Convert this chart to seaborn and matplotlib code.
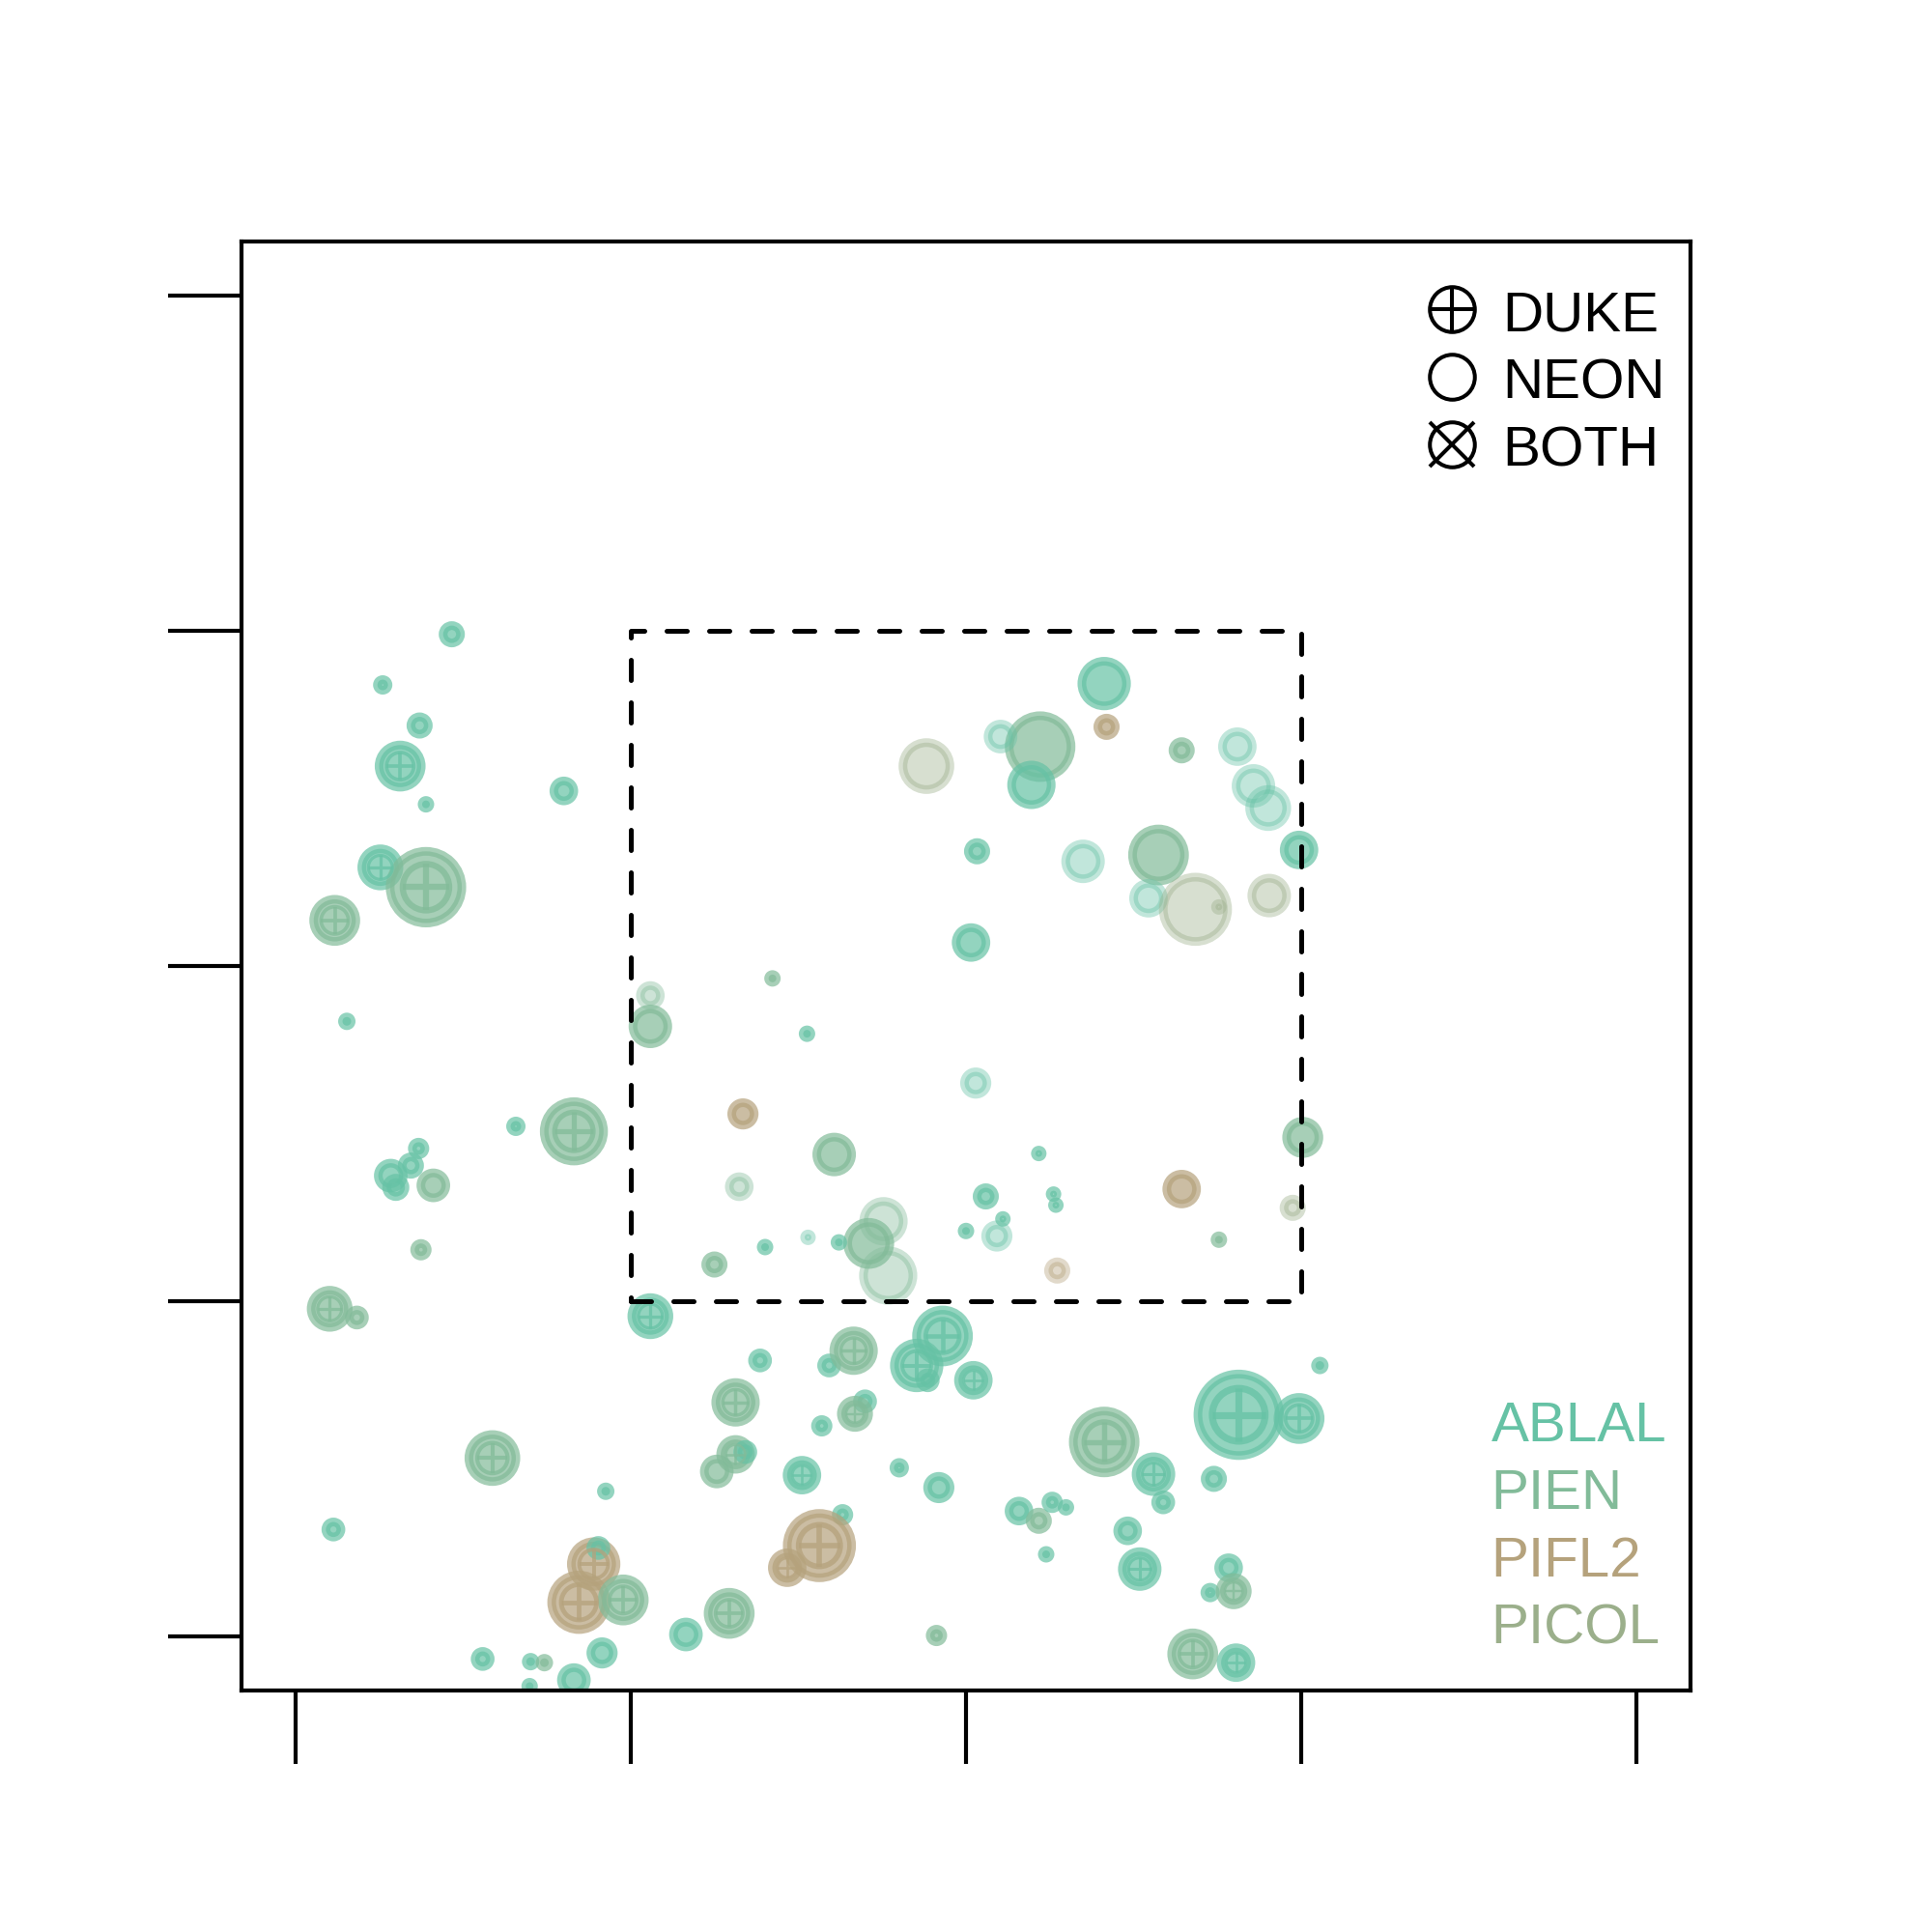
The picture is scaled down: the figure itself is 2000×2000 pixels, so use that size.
import numpy as np
import pandas as pd
import matplotlib.pyplot as plt
import seaborn as sns
from matplotlib.markers import MarkerStyle

# stem map: plot coordinates (m), stem diameter, species, survey, status
x = [4.67, 2.61, 3.71, 3.13, 3.90, 8.01, 2.54, 3.90, 1.18, 1.54, 6.58, 8.31, 3.68,
     2.85, 3.00, 3.45, 4.12, 3.75, 1.03, 1.84, 5.88, 1.14,
     24.12, 24.19, 18.82, 21.03, 22.21, 21.95, 26.43, 28.09, 28.57, 29.01, 20.33,
     23.49, 25.74, 29.93, 25.44, 26.84, 27.54, 29.04, 20.15, 10.59, 10.59, 14.23,
     15.26, 20.29, 13.35, 30.04, 16.07, 22.17, 13.24, 26.43, 20.59, 22.61, 22.68,
     17.54, 29.74, 21.10, 20.00, 20.92, 17.10, 16.21, 15.29, 14.01, 27.54, 12.50,
     17.68, 22.72,
     10.59, 13.86, 15.92, 16.65, 19.30, 18.53, 18.86, 20.22, 13.13, 16.99, 16.69,
     15.70, 13.13, 13.42, 12.57, 15.11, 18.01, 19.19, 16.32, 9.26, 8.90, 9.04,
     8.46, 9.78, 15.63, 14.67, 12.94, 11.65, 9.15, 5.59, 7.02, 7.43, 8.31, 6.99,
     19.12, 24.12, 28.13, 29.93, 30.55, 25.59, 27.39, 25.88, 21.58, 22.17, 22.57,
     22.98, 22.39, 24.82, 25.18, 27.83, 27.28, 27.98, 26.76, 28.05]
y = [29.89, 28.38, 27.17, 25.96, 24.82, 25.22, 22.94, 22.35, 21.36, 18.35, 15.22,
     15.07, 14.56, 13.75, 13.40, 14.05, 13.46, 11.54, 9.78, 9.52, 5.33, 3.20,
     28.42, 27.13, 25.96, 26.84, 26.54, 25.40, 26.43, 26.54, 25.37, 24.71, 23.42,
     23.12, 23.31, 23.46, 22.02, 21.69, 21.76, 22.10, 20.70, 19.12, 18.20, 19.63,
     17.98, 16.51, 15.59, 14.89, 14.38, 14.41, 13.42, 13.35, 13.13, 13.20, 12.87,
     12.39, 12.79, 12.46, 12.10, 11.95, 11.73, 11.76, 11.91, 11.62, 11.84, 11.10,
     10.77, 10.92,
     9.56, 8.24, 8.09, 8.53, 8.97, 8.09, 7.65, 7.65, 6.99, 7.02, 6.65, 6.29, 5.44,
     5.51, 4.93, 4.82, 5.04, 4.45, 3.64, 4.34, 2.17, 2.65, 1.03, 1.10, 2.72, 2.06,
     0.70, 0.07, -0.48, -0.66, -0.74, -0.77, -1.29, -1.47, 0.04, 5.81, 6.62, 6.51,
     8.09, 4.85, 4.71, 4.01, 3.75, 3.46, 4.01, 3.86, 2.46, 3.16, 2.02, 2.06, 1.32,
     1.36, -0.51, -0.77]
dbh = [9.0, 5.5, 9.0, 21.8, 4.0, 10.3, 19.2, 37.1, 21.8, 4.5, 5.5, 30.7, 6.5,
       12.9, 9.5, 9.0, 12.9, 6.5, 19.2, 7.8, 24.3, 7.8,
       23.1, 9.0, 24.3, 12.9, 32.0, 20.5, 9.0, 15.4, 18.0, 19.2, 9.0, 18.0, 26.9,
       15.4, 15.4, 33.3, 3.5, 18.0, 15.4, 10.3, 18.0, 4.0, 4.0, 11.6, 11.6, 16.7,
       18.0, 3.5, 10.3, 15.4, 9.0, 3.5, 3.5, 20.5, 9.0, 3.5, 4.0, 11.6, 21.8, 4.0,
       3.5, 4.0, 4.0, 9.0, 25.6, 9.0,
       19.2, 7.8, 7.8, 20.5, 26.9, 23.1, 7.8, 15.4, 20.5, 7.8, 14.1, 6.5, 15.4,
       7.8, 12.9, 15.4, 5.5, 11.6, 6.5, 4.5, 23.1, 7.8, 28.2, 21.8, 33.3, 15.4,
       21.8, 12.9, 11.6, 7.8, 4.5, 4.5, 12.9, 4.0, 6.5, 32.0, 42.2, 21.8, 4.5,
       18.0, 9.0, 7.8, 10.3, 9.0, 6.5, 4.0, 4.0, 10.3, 18.0, 10.3, 5.5, 14.1,
       21.8, 15.4]
species = ["ABLAL"] * 7 + ["PIEN", "PIEN", "ABLAL", "ABLAL", "PIEN", "ABLAL",
           "ABLAL", "ABLAL", "ABLAL", "PIEN", "PIEN", "PIEN", "PIEN", "PIEN", "ABLAL",
           "ABLAL", "PIFL2", "PICOL", "ABLAL", "PIEN", "ABLAL", "PIEN", "ABLAL", "ABLAL",
           "ABLAL", "ABLAL", "ABLAL", "PIEN", "ABLAL", "ABLAL", "PICOL", "PICOL",
           "PICOL", "ABLAL", "PIEN", "PIEN", "PIEN", "ABLAL", "ABLAL", "PIFL2", "PIEN",
           "PIEN", "ABLAL", "PIEN", "PIFL2", "ABLAL", "ABLAL", "ABLAL", "PIEN", "PICOL",
           "ABLAL", "ABLAL", "ABLAL", "PIEN", "ABLAL", "ABLAL", "ABLAL", "PIEN", "PIEN",
           "PIEN", "PIFL2",
           "ABLAL", "ABLAL", "ABLAL", "PIEN", "ABLAL", "ABLAL", "ABLAL", "ABLAL",
           "PIEN", "ABLAL", "PIEN", "ABLAL", "PIEN", "ABLAL", "PIEN", "ABLAL", "ABLAL",
           "ABLAL", "ABLAL", "ABLAL", "PIFL2", "ABLAL", "PIFL2", "PIEN", "PIFL2",
           "PIFL2", "PIEN", "ABLAL", "ABLAL", "ABLAL", "ABLAL", "PIEN", "ABLAL",
           "ABLAL", "PIEN", "PIEN", "ABLAL", "ABLAL", "ABLAL", "ABLAL", "ABLAL",
           "ABLAL", "ABLAL", "PIEN", "ABLAL", "ABLAL", "ABLAL", "ABLAL", "ABLAL",
           "ABLAL", "ABLAL", "PIEN", "PIEN", "ABLAL"]
survey = ["DUKE"] * 22 + ["NEON"] * 46 + ["DUKE"] * 54
status = (["live"] * 22
          + ["live", "live", "dead", "dead", "live", "live", "live", "dead", "dead",
             "dead", "live", "dead", "live", "live", "dead", "dead", "dead", "dead",
             "live", "dead", "live", "live", "live", "dead", "live", "live", "live",
             "live", "dead", "live", "live", "live", "live", "dead", "dead", "live",
             "live", "dead", "live", "live", "dead", "live", "live", "live", "dead",
             "dead"]
          + ["live"] * 54)

species_order = ["ABLAL", "PIEN", "PIFL2", "PICOL"]
species_colors = ["#66C2A5", "#82BB99", "#B5A27C", "#9BAF8B"]
survey_labels = ["DUKE", "NEON", "BOTH"]
focus_lo, focus_hi = 10, 30
ticks = [0, 10, 20, 30, 40]

df = pd.DataFrame({"x": x, "y": y, "dbh": dbh, "species": species,
                   "survey": survey, "status": status})
df["ba"] = df["dbh"] ** 2
palette = dict(zip(species_order, species_colors))

sns.set_style("white")
plt.rcParams["font.family"] = ["Liberation Sans", "DejaVu Sans"]

dpi = 100
px = 72 / dpi                      # points per pixel
ba_max = df["ba"].max()
s_max = (2 * px) ** 2 * ba_max     # marker area so that radius follows dbh

fig = plt.figure(figsize=(20, 20), dpi=dpi)
ax = fig.add_axes([0.125, 0.125, 0.75, 0.75])

alphas = {"live": 0.7, "dead": 0.4}
for st in ["live", "dead"]:
    sub = df[df["status"] == st]
    sns.scatterplot(data=sub, x="x", y="y", hue="species", palette=palette,
                    size="ba", sizes=(0, s_max), size_norm=(0, ba_max),
                    alpha=alphas[st], edgecolor="face", linewidth=9 * px,
                    legend=False, ax=ax, zorder=2)

# larger DUKE stems carry a circled plus, drawn per species so the line colour follows it
ring = MarkerStyle("o", fillstyle="none")
for sp_name in species_order:
    duke = df[(df["survey"] == "DUKE") & (df["species"] == sp_name) & (df["dbh"] >= 13)]
    if duke.empty:
        continue
    for mk in [ring, "+"]:
        sns.scatterplot(data=duke, x="x", y="y", color=palette[sp_name],
                        size="ba", sizes=(0, 0.42 * s_max), size_norm=(0, ba_max),
                        marker=mk, alpha=0.75,
                        linewidth=0.17 * duke["dbh"].values * px,
                        legend=False, ax=ax, zorder=3)

# focus window
ax.plot([focus_lo, focus_hi, focus_hi, focus_lo, focus_lo],
        [focus_lo, focus_lo, focus_hi, focus_hi, focus_lo],
        color="black", lw=3.6, dashes=(4.2, 4.6), dash_capstyle="round", zorder=4)

ax.set_xlim(-1.6, 41.6)
ax.set_ylim(-1.6, 41.6)
ax.set_xticks(ticks)
ax.set_yticks(ticks)
ax.set_xticklabels([])
ax.set_yticklabels([])
ax.set_xlabel("")
ax.set_ylabel("")
ax.tick_params(bottom=True, left=True, top=False, right=False,
               direction="out", length=55, width=3.0, color="black")
for sp in ax.spines.values():
    sp.set_visible(True)
    sp.set_linewidth(3.0)
    sp.set_color("black")

# survey key
key_y = [0.9533, 0.9067, 0.86]
for lab, ky in zip(survey_labels, key_y):
    ax.plot([0.8353], [ky], marker="o", ms=33.5, mfc="none", mec="black", mew=2.9,
            transform=ax.transAxes, clip_on=False)
    if lab == "DUKE":
        ax.plot([0.8353], [ky], marker="+", ms=33.5, mec="black", mew=2.9,
                transform=ax.transAxes, clip_on=False)
    if lab == "BOTH":
        ax.plot([0.8353], [ky], marker="x", ms=33.5, mec="black", mew=2.9,
                transform=ax.transAxes, clip_on=False)
    ax.text(0.8705, ky - 0.0147, lab, transform=ax.transAxes, fontsize=42,
            color="black", va="baseline", ha="left")

# species key
sp_y = [0.172, 0.1253, 0.0787, 0.032]
for lab, col, ky in zip(species_order, species_colors, sp_y):
    ax.text(0.8625, ky, lab, transform=ax.transAxes, fontsize=42, color=col,
            va="baseline", ha="left")

fig.savefig("out.png", dpi=dpi)
